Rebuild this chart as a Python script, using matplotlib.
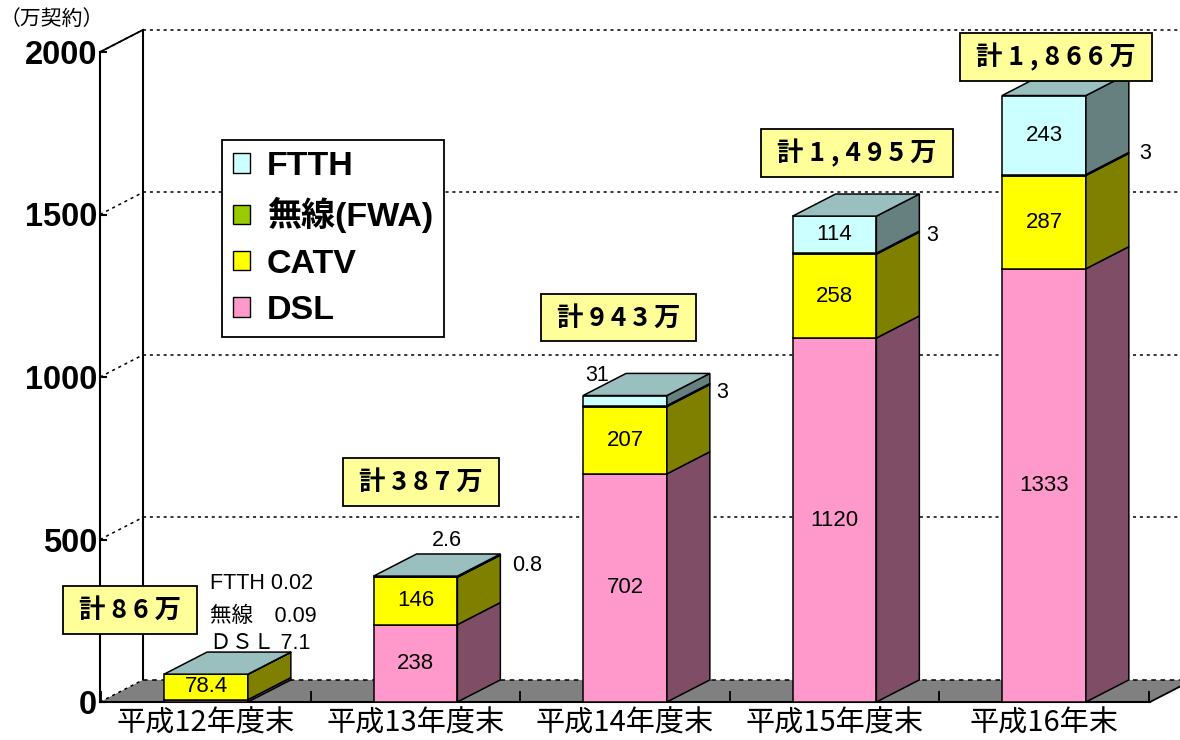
import matplotlib
matplotlib.use('Agg')
import matplotlib.pyplot as plt
from matplotlib.patches import Polygon, Patch
from matplotlib.colors import to_rgb

plt.rcParams['font.family'] = ['Liberation Sans', 'Noto Sans CJK JP', 'DejaVu Sans']

# ---------------- data ----------------
categories = ['平成12年度末', '平成13年度末', '平成14年度末', '平成15年度末', '平成16年末']
dsl = [7.1, 238, 702, 1120, 1333]
catv = [78.4, 146, 207, 258, 287]
fwa = [0.09, 0.8, 3, 3, 3]
ftth = [0.02, 2.6, 31, 114, 243]
totals = ['計 8 6 万', '計 3 8 7 万', '計 9 4 3 万', '計 1 , 4 9 5 万', '計 1 , 8 6 6 万']
legend_names = ['FTTH', '無線(FWA)', 'CATV', 'DSL']
yticks = [0, 500, 1000, 1500, 2000]

# ---------------- style ----------------
front = {'DSL': '#FF99CC', 'CATV': '#FFFF00', 'FWA': '#99CC00', 'FTTH': '#CCFFFF'}


def shade(c, f):
    r, g, b = to_rgb(c)
    return (r * f, g * f, b * f)


W = 0.40      # bar width (category units)
DX = 0.205    # depth offset x (category units)
DY = 68       # depth offset y (value units)
XMIN, XMAX = -0.506, 4.506
LW = 1.1

fig = plt.figure(figsize=(11.8, 7.4), dpi=100)
ax = fig.add_axes([100 / 1180, 1 - 702 / 740, 1050 / 1180, 650 / 740])
ax.set_xlim(XMIN, XMAX)
ax.set_ylim(0, 2000)

# gridlines on side wall and back wall
dot = (0, (2, 2.5))
for v in yticks[1:]:
    ax.plot([XMIN, XMIN + DX], [v, v + DY], color='k', lw=1.1, ls=dot, zorder=1, clip_on=False)
    ax.plot([XMIN + DX, XMAX + DX + 0.3], [v + DY, v + DY], color='k', lw=1.1, ls=dot,
            zorder=1, clip_on=False)

# side wall edges
ax.plot([XMIN + DX, XMIN + DX], [DY, 2000 + DY], color='k', lw=1.5, zorder=1.2, clip_on=False)
ax.plot([XMIN, XMIN + DX], [2000, 2000 + DY], color='k', lw=1.3, zorder=1.2, clip_on=False)

# floor
ax.add_patch(Polygon([(XMIN, 0), (XMAX, 0), (XMAX + DX, DY), (XMIN + DX, DY)],
                     closed=True, fc='#808080', ec='none', zorder=1.5, clip_on=False))
ax.plot([XMAX, XMAX + DX], [0, DY], color='k', lw=1.3, zorder=1.6, clip_on=False)
ax.plot([XMIN + DX, XMAX + DX], [DY, DY], color='k', lw=1.1, ls=(0, (3, 3)), zorder=1.6, clip_on=False)
ax.plot([XMIN, XMIN + DX], [0, DY], color='k', lw=1.1, ls=dot, zorder=1.6, clip_on=False)

# bars
series = [('DSL', dsl), ('CATV', catv), ('FWA', fwa), ('FTTH', ftth)]
for i in range(len(categories)):
    bottom = 0
    x0, x1 = i - W / 2, i + W / 2
    last = None
    for key, vals in series:
        v = vals[i]
        top = bottom + v
        ax.add_patch(Polygon([(x0, bottom), (x1, bottom), (x1, top), (x0, top)], closed=True,
                             fc=front[key], ec='k', lw=LW, zorder=3, clip_on=False))
        ax.add_patch(Polygon([(x1, bottom), (x1 + DX, bottom + DY), (x1 + DX, top + DY), (x1, top)],
                             closed=True, fc=shade(front[key], 0.5), ec='k', lw=LW, zorder=3,
                             clip_on=False))
        if v >= 70:
            ax.text(i, bottom + v / 2, f'{v:g}', ha='center', va='center', fontsize=16,
                    zorder=4)
        bottom = top
        last = key
    ax.add_patch(Polygon([(x0, bottom), (x0 + DX, bottom + DY), (x1 + DX, bottom + DY), (x1, bottom)],
                         closed=True, fc=shade(front[last], 0.75), ec='k', lw=LW, zorder=3,
                         clip_on=False))

# small value labels outside the bars
small = [
    (0.02, 366, f'FTTH {ftth[0]:g}', 'left', 5),
    (0.02, 262, f'無線\u3000{fwa[0]:g}', 'left', 5),
    (0.02, 181, f'ＤＳＬ {dsl[0]:g}', 'left', 2),
    (1.15, 498, f'{ftth[1]:g}', 'center', 5),
    (1.532, 421, f'{fwa[1]:g}', 'center', 5),
    (1.866, 1006, f'{ftth[2]:g}', 'center', 5),
    (2.463, 951, f'{fwa[2]:g}', 'center', 5),
    (3.465, 1434, f'{fwa[3]:g}', 'center', 5),
    (4.482, 1689, f'{fwa[4]:g}', 'center', 5),
]
for x, y, s, ha, z in small:
    ax.text(x, y, s, ha=ha, va='center', fontsize=15.5, zorder=z, clip_on=False)

# total boxes
total_pos = [(-0.363, 283), (1.026, 677), (1.97, 1182), (3.107, 1689), (4.057, 1985)]
for (x, y), s in zip(total_pos, totals):
    ax.text(x, y, ' ' + s + ' ', ha='center', va='center', fontsize=19, fontweight='bold',
            family='Noto Sans CJK JP', zorder=6, clip_on=False,
            bbox=dict(boxstyle='square,pad=0.38', fc='#FFFF99', ec='k', lw=1.3))

# axes styling
for s in ['top', 'right']:
    ax.spines[s].set_visible(False)
ax.spines['left'].set_linewidth(1.5)
ax.spines['bottom'].set_linewidth(1.5)
ax.spines['left'].set_zorder(1.3)
ax.spines['bottom'].set_zorder(1.7)
ax.set_yticks(yticks)
ax.set_yticklabels([str(t) for t in yticks], fontsize=23.5, fontweight='bold')
ax.tick_params(axis='y', direction='in', length=5, width=1.5, pad=2)
ax.set_xticks(range(len(categories)))
ax.set_xticklabels(categories, fontsize=21, family='Noto Sans CJK JP')
ax.tick_params(axis='x', which='major', length=0, pad=5)
ax.set_xticks([i + 0.5 for i in range(-1, len(categories))], minor=True)
ax.tick_params(axis='x', which='minor', direction='in', length=8, width=1.3)

# legend
handles = [Patch(fc=front[k], ec='k', lw=1) for k in ['FTTH', 'FWA', 'CATV', 'DSL']]
leg = ax.legend(handles, legend_names, loc='upper left',
                bbox_to_anchor=(222 / 1180, 1 - 140 / 740), bbox_transform=fig.transFigure,
                borderaxespad=0, fancybox=False, framealpha=1, edgecolor='k',
                prop={'size': 24.5, 'weight': 'bold'}, handlelength=0.5, handleheight=0.5,
                handletextpad=0.5, labelspacing=0.45, borderpad=0.32)
leg.get_frame().set_linewidth(1.3)
leg.set_zorder(7)

fig.text(0 / 1180, 1 - 19 / 740, '（万契約）', fontsize=15, family='Noto Sans CJK JP',
         ha='left', va='center')

fig.savefig('out.png', dpi=100)
